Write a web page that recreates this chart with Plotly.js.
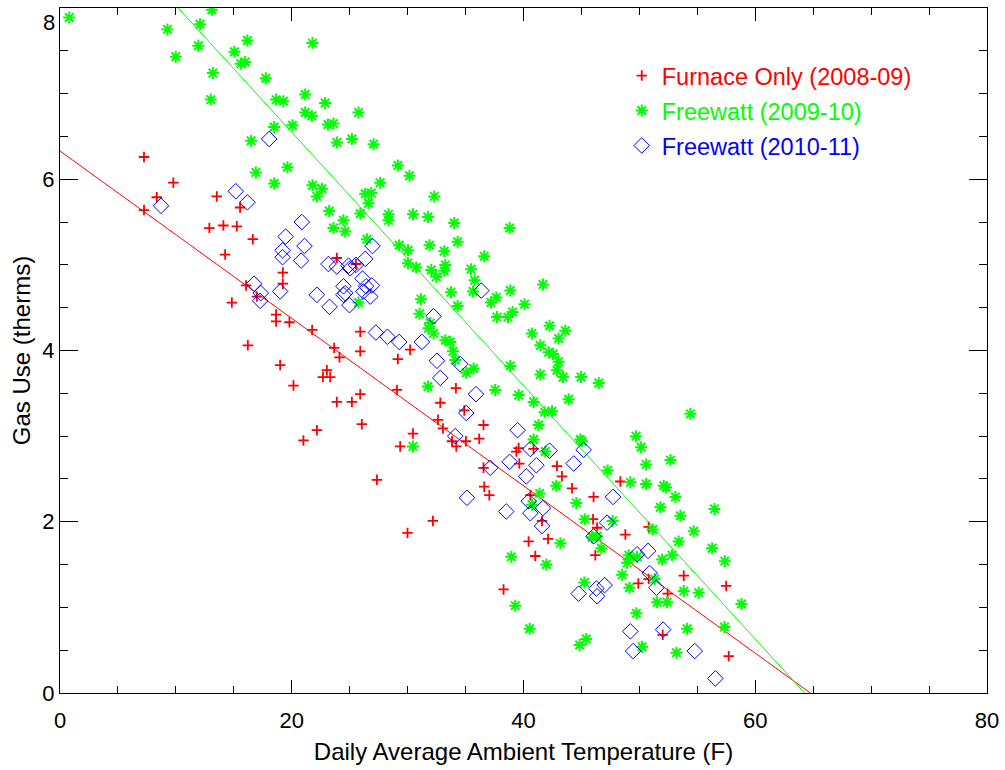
<!DOCTYPE html>
<html>
<head>
<meta charset="utf-8">
<script src="https://cdn.plot.ly/plotly-3.0.1.min.js"></script>
<style>html,body{margin:0;padding:0;background:#fff;}#chart{width:1005px;height:770px;}</style>
</head>
<body>
<div id="chart"></div>
<script>
// Furnace Only (2008-09)
const furnaceX = [7.25,7.25,8.35,9.78,13.53,15.54,12.89,14.10,15.26,16.64,14.25,16.06,16.99,14.83,19.23,19.23,18.65,18.65,19.80,21.76,23.66,24.12,25.91,25.91,16.21,23.89,25.54,19.0,20.15,23.03,22.69,23.32,23.89,22.17,21.01,29.16,30.22,29.08,25.91,25.19,26.05,27.35,29.36,30.46,32.82,34.17,32.62,33.05,34.89,33.83,34.20,35.03,36.18,36.55,36.55,36.61,37.05,39.38,39.58,39.64,42.89,43.32,44.19,40.87,40.59,46.05,48.36,32.18,29.99,41.60,40.44,42.12,41.02,38.28,46.0,46.35,46.2,48.79,49.91,50.80,53.83,50.80,52.44,57.49,52.01,57.71];
const furnaceY = [6.26,5.64,5.79,5.96,5.80,5.67,5.43,5.46,5.45,5.30,5.12,4.76,4.63,4.56,4.91,4.78,4.42,4.34,4.33,4.24,4.03,3.92,4.22,3.99,4.06,5.08,5.01,3.83,3.59,3.77,3.69,3.69,3.40,3.07,2.95,3.90,4.01,3.54,3.49,3.40,3.14,2.49,2.88,3.03,3.39,3.56,3.19,3.09,3.30,2.94,2.88,2.94,2.97,3.13,2.63,2.41,2.31,2.82,2.86,2.68,2.65,2.53,2.39,2.85,2.31,2.29,2.47,2.01,1.87,2.01,1.77,1.80,1.60,1.21,2.03,1.93,1.61,1.85,1.28,1.94,1.37,1.33,1.16,1.25,0.68,0.43];

// Freewatt (2009-10)
const freewatt0910X = [0.80,9.27,12.09,13.10,9.99,11.94,16.17,15.05,15.60,15.98,13.19,17.76,13.01,18.65,19.28,21.79,21.16,22.88,21.16,21.74,20.06,18.48,23.12,23.60,16.49,23.89,19.63,16.90,18.48,21.79,22.60,22.17,23.23,23.60,25.76,25.19,27.06,29.16,30.16,27.63,26.34,26.86,26.62,24.46,24.61,25.91,28.35,28.35,30.46,31.75,32.30,34.02,38.80,26.49,29.27,30.03,31.89,33.16,34.31,36.61,30.03,30.74,32.04,32.47,33.25,33.16,35.47,35.78,35.64,38.86,41.68,33.74,34.31,31.15,31.03,37.19,37.65,40.09,37.71,38.66,39.06,31.80,32.24,31.95,33.25,33.68,33.91,34.11,35.69,35.06,31.75,37.56,39.58,40.87,41.82,42.46,38.86,40.73,41.45,42.25,43.61,43.03,42.17,42.55,43.03,42.89,41.45,43.41,44.97,46.49,43.89,25.76,30.46,41.30,40.87,44.90,45.05,42.83,41.39,47.26,49.22,49.71,50.15,41.88,54.40,50.58,52.68,50.58,52.10,52.31,53.11,51.81,53.54,56.48,44.56,45.28,47.69,43.18,45.92,46.35,46.72,51.15,54.69,53.39,56.28,57.37,49.08,49.80,48.94,48.51,49.14,51.96,52.82,51.32,45.25,53.83,55.12,51.53,52.39,58.81,49.74,54.12,57.34,45.42,44.84,50.23,53.20,38.95,41.97,39.29,40.53,40.73];
const freewatt0910Y = [7.89,7.75,7.81,7.98,7.43,7.56,7.62,7.49,7.35,7.37,7.24,7.18,6.93,6.93,6.91,7.59,6.99,6.89,6.78,6.74,6.63,6.61,6.64,6.65,6.45,6.43,6.14,6.08,5.95,5.93,5.89,5.80,5.63,5.43,6.78,6.47,6.41,6.16,6.04,5.96,5.83,5.84,5.72,5.52,5.39,5.60,5.59,5.52,5.59,5.56,5.80,5.49,5.43,5.30,5.23,5.17,5.23,5.16,5.27,5.10,5.02,4.97,4.94,4.86,5.00,4.93,4.95,4.82,4.69,4.70,4.77,4.68,4.52,4.60,4.43,4.56,4.62,4.54,4.39,4.39,4.45,4.26,4.20,4.32,4.12,4.10,3.99,3.89,3.79,3.74,3.58,3.54,3.48,3.40,3.28,3.29,3.82,4.20,4.06,4.29,4.23,4.14,3.98,3.96,3.87,3.77,3.72,3.69,3.69,3.62,3.43,4.56,2.88,3.13,2.96,2.96,2.94,2.42,2.33,2.60,2.46,3.00,2.87,2.82,3.26,2.67,2.72,2.44,2.42,2.40,2.29,2.17,2.07,2.15,2.22,2.03,2.01,1.75,1.82,1.83,1.69,1.91,1.89,1.77,1.69,1.54,1.61,1.59,1.52,1.38,1.23,1.56,1.61,1.33,1.29,1.19,1.17,1.06,1.06,1.04,0.93,0.75,0.77,0.63,0.56,0.54,0.47,1.59,1.50,1.02,0.75,2.20];

// Freewatt (2010-11)
const freewatt1011X = [18.05,15.17,16.17,8.72,20.87,19.47,21.10,19.21,19.21,20.81,26.97,26.34,23.17,23.89,24.90,25.04,25.54,26.11,26.92,24.46,24.61,24.46,26.19,26.42,26.77,24.98,22.17,23.26,19.0,16.75,17.33,17.27,27.26,28.26,29.27,31.23,32.24,32.53,32.82,34.54,35.90,36.36,35.06,34.11,37.13,39.49,38.80,40.59,41.11,40.24,42.25,44.33,45.19,35.12,40.45,47.73,38.51,40.59,41.68,41.60,47.21,46.05,44.76,46.29,47.0,46.35,49.22,49.46,49.80,50.75,50.89,51.47,52.05,54.78,56.56];
const freewatt1011Y = [6.47,5.86,5.73,5.69,5.50,5.33,5.22,5.17,5.09,5.05,5.22,5.07,5.01,4.98,4.99,4.96,5.00,4.84,4.76,4.75,4.67,4.65,4.69,4.75,4.63,4.53,4.65,4.51,4.69,4.78,4.67,4.58,4.21,4.16,4.10,4.10,4.40,3.88,3.68,3.84,3.49,4.70,3.27,3.00,2.63,3.07,2.70,2.85,2.66,2.53,2.83,2.68,2.84,2.28,2.24,2.29,2.12,2.10,2.16,1.95,1.99,1.83,1.16,1.22,1.26,1.13,0.72,0.49,1.62,1.66,1.40,1.23,0.74,0.49,0.17];

// Fit lines (end points, clipped by the axes)
const fitX = [0, 80];
const furnaceFitY = [6.33, -1.49];
const freewattFitY = [9.51, -2.33];

// Axis ticks
const yTickVals = [0, 2, 4, 6, 8];
const yTickText = ['0', '2', '4', '6', ''];
const yTopLabel = '8';

const seriesNames = ['Furnace Only (2008-09)', 'Freewatt (2009-10)', 'Freewatt (2010-11)'];
const RED = '#ff0000', GREEN = '#00ff00', BLUE = '#0000ff';
const FONT = 'Liberation Sans, Arial, Helvetica, sans-serif';

const traces = [
  {x: fitX, y: furnaceFitY, mode: 'lines', line: {color: RED, width: 1}, showlegend: false, hoverinfo: 'skip'},
  {x: fitX, y: freewattFitY, mode: 'lines', line: {color: GREEN, width: 1}, showlegend: false, hoverinfo: 'skip'},
  {x: furnaceX, y: furnaceY, mode: 'markers', name: seriesNames[0], legend: 'legend',
   marker: {symbol: 'cross-thin-open', size: 7.5, color: RED, line: {color: RED, width: 1.8}}},
  {x: freewatt0910X, y: freewatt0910Y, mode: 'markers', name: seriesNames[1], legend: 'legend2',
   marker: {symbol: 'asterisk-open', size: 10, color: GREEN, line: {color: GREEN, width: 2}}},
  {x: freewatt1011X, y: freewatt1011Y, mode: 'markers', name: seriesNames[2], legend: 'legend3',
   marker: {symbol: 'diamond-open', size: 12, color: BLUE, line: {color: BLUE, width: 1}}}
];

function leg(y, color) {
  return {x: 0.606, y: y, xanchor: 'left', yanchor: 'middle', bgcolor: 'rgba(0,0,0,0)',
          borderwidth: 0, font: {family: FONT, size: 23.5, color: color}, itemwidth: 30};
}

const axisCommon = {
  showgrid: false, zeroline: false, showline: true, linecolor: '#000', linewidth: 1,
  mirror: 'ticks', ticks: 'inside', tickcolor: '#000', tickwidth: 1,
  tickfont: {family: FONT, size: 22, color: '#000'}
};

const layout = {
  width: 1005, height: 770,
  margin: {l: 60, r: 18, t: 8, b: 77},
  paper_bgcolor: '#fff', plot_bgcolor: '#fff',
  font: {family: FONT, color: '#000'},
  xaxis: Object.assign({}, axisCommon, {
    range: [0, 80], dtick: 20, tick0: 0, ticklen: 13,
    minor: {dtick: 5, ticklen: 7, ticks: 'inside', tickcolor: '#000', showgrid: false},
    ticklabelstandoff: 8,
    title: {text: 'Daily Average Ambient Temperature (F)', font: {family: FONT, size: 24, color: '#000'}, standoff: 10}
  }),
  yaxis: Object.assign({}, axisCommon, {
    range: [0, 8], tickmode: 'array', tickvals: yTickVals, ticktext: yTickText, ticklen: 18,
    minor: {dtick: 0.5, ticklen: 8, ticks: 'inside', tickcolor: '#000', showgrid: false},
    title: {text: 'Gas Use (therms)', font: {family: FONT, size: 24, color: '#000'}, standoff: 4}
  }),
  annotations: [{
    text: yTopLabel, xref: 'paper', yref: 'y', x: 0, y: yTickVals[yTickVals.length - 1],
    xanchor: 'right', yanchor: 'middle', xshift: -3, yshift: -14, showarrow: false,
    font: {family: FONT, size: 22, color: '#000'}
  }],
  legend: leg(0.901, RED),
  legend2: leg(0.850, GREEN),
  legend3: leg(0.799, BLUE),
  showlegend: true
};

Plotly.newPlot('chart', traces, layout, {displayModeBar: false, staticPlot: true});
</script>
</body>
</html>
